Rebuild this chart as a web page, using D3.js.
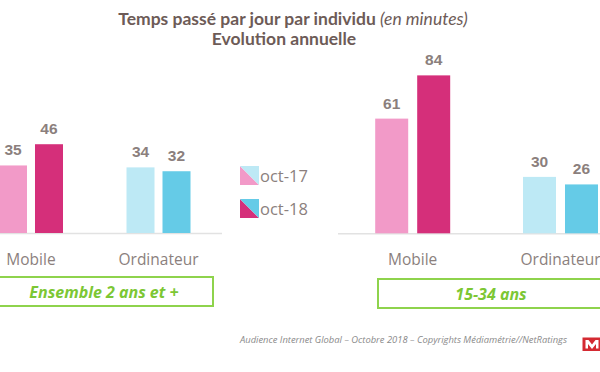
<!DOCTYPE html>
<html><head><meta charset="utf-8">
<script src="https://cdn.jsdelivr.net/npm/d3@7"></script>
<style>html,body{margin:0;padding:0;background:#fff;}svg{display:block;}</style>
</head><body>
<svg id="c" width="600" height="372"></svg>
<script>
const categories = ["Mobile", "Ordinateur"];
const seriesNames = ["oct-17", "oct-18"];
const ensembleOct17 = [35, 34];
const ensembleOct18 = [46, 32];
const jeunesOct17 = [61, 30];
const jeunesOct18 = [84, 26];
const panelLabels = ["Ensemble 2 ans et +", "15-34 ans"];
const titleBold = "Temps passé par jour par individu ";
const titleItalic = "(en minutes)";
const subtitle = "Evolution annuelle";
const footer = "Audience Internet Global – Octobre 2018 – Copyrights Médiamétrie//NetRatings";

const colors = {
  "Mobile": ["#f29ac8", "#d52f7a"],
  "Ordinateur": ["#bde9f5", "#65cbe7"]
};
const textGrey = "#8b7f7d";
const green = "#8ed34c";
const greenText = "#7cc734";

const svg = d3.select("#c");

// Title
const t1 = svg.append("text").attr("x", 293).attr("y", 25).attr("text-anchor", "middle")
  .style("font-family", "Lato").style("font-size", "17.5px").attr("fill", "#6d5b57");
t1.append("tspan").style("font-weight", "bold").text(titleBold);
t1.append("tspan").style("font-style", "italic").style("font-weight", "normal").text(titleItalic);
svg.append("text").attr("x", 284).attr("y", 44.5).attr("text-anchor", "middle")
  .style("font-family", "Lato").style("font-weight", "bold").style("font-size", "17.5px")
  .attr("fill", "#6d5b57").text(subtitle);

function panel(cfg) {
  const x0 = d3.scaleBand().domain(categories).range(cfg.xr).paddingInner(0).paddingOuter(0);
  const x1 = d3.scaleBand().domain(seriesNames).range([0, x0.bandwidth()])
    .paddingInner(cfg.pi).paddingOuter(cfg.po);
  const y = d3.scaleLinear().domain(cfg.yd).range(cfg.yr);
  const g = svg.append("g");
  g.append("line").attr("x1", cfg.lineX[0]).attr("x2", cfg.lineX[1])
    .attr("y1", y(0) + 0.5).attr("y2", y(0) + 0.5).attr("stroke", "#e2e2e2").attr("stroke-width", 1.5);
  const data = [];
  categories.forEach((c, i) => {
    seriesNames.forEach((s, j) => {
      data.push({ c, s, j, v: (j === 0 ? cfg.a : cfg.b)[i] });
    });
  });
  const bars = g.selectAll("g.bar").data(data).join("g");
  bars.append("rect")
    .attr("x", d => x0(d.c) + x1(d.s))
    .attr("width", x1.bandwidth())
    .attr("y", d => y(d.v))
    .attr("height", d => y(0) - y(d.v))
    .attr("fill", d => colors[d.c][d.j]);
  bars.append("text")
    .attr("x", d => x0(d.c) + x1(d.s) + x1.bandwidth() / 2)
    .attr("y", d => y(d.v) - 10)
    .attr("text-anchor", "middle")
    .style("font-family", "Liberation Sans").style("font-weight", "bold").style("font-size", "15.5px")
    .attr("fill", textGrey).text(d => d.v);
  g.selectAll("text.cat").data(categories).join("text")
    .attr("x", d => x0(d) + x0.bandwidth() / 2).attr("y", 265)
    .attr("text-anchor", "middle")
    .style("font-family", "Open Sans").style("font-size", "15.5px").attr("fill", textGrey)
    .text(d => d);
  g.append("rect").attr("x", cfg.box[0]).attr("y", cfg.box[1]).attr("width", cfg.box[2]).attr("height", cfg.box[3])
    .attr("fill", "none").attr("stroke", green).attr("stroke-width", 2);
  g.append("text").attr("x", cfg.labelX).attr("y", cfg.box[1] + 20.5).attr("text-anchor", "middle")
    .style("font-family", "Open Sans").style("font-weight", "bold").style("font-style", "italic")
    .style("font-size", "16px").attr("fill", greenText).text(cfg.label);
}

panel({ a: ensembleOct17, b: ensembleOct18, xr: [-32.75, 222.25], pi: 0.222, po: 0.882,
  yd: [0, 50], yr: [233, 136.5], lineX: [0, 222], box: [-6, 277, 219, 29], labelX: 104, label: panelLabels[0] });
panel({ a: jeunesOct17, b: jeunesOct18, xr: [338.8, 634.4], pi: 0.214, po: 0.867,
  yd: [0, 90], yr: [233.3, 64.1], lineX: [338, 600], box: [378, 279, 232, 29], labelX: 491, label: panelLabels[1] });

// Legend
const leg = svg.append("g");
seriesNames.forEach((s, j) => {
  const lx = 240, ly = 166 + j * 33, sz = 19;
  leg.append("path").attr("d", `M${lx},${ly} L${lx},${ly + sz} L${lx + sz},${ly + sz} Z`).attr("fill", colors["Mobile"][j]);
  leg.append("path").attr("d", `M${lx},${ly} L${lx + sz},${ly} L${lx + sz},${ly + sz} Z`).attr("fill", colors["Ordinateur"][j]);
  leg.append("text").attr("x", lx + 20).attr("y", ly + 15.5)
    .style("font-family", "Open Sans").style("font-size", "16.5px").attr("fill", textGrey).text(s);
});

// Footer
svg.append("text").attr("x", 567).attr("y", 343).attr("text-anchor", "end")
  .style("font-family", "Open Sans").style("font-style", "italic").style("font-size", "9.4px")
  .attr("fill", "#8a8a8a").text(footer);
// Logo
const lg = svg.append("g").attr("transform", "translate(582.5,337.5)");
lg.append("rect").attr("width", 19).attr("height", 13.5).attr("fill", "#d42a32");
lg.append("path").attr("d", "M3,11 L3,2.5 L6,2.5 L9.5,7 L13,2.5 L16,2.5 L16,11 L13.5,11 L13.5,6.5 L9.5,11.5 L5.5,6.5 L5.5,11 Z")
  .attr("fill", "#ffffff");
</script>
</body></html>
